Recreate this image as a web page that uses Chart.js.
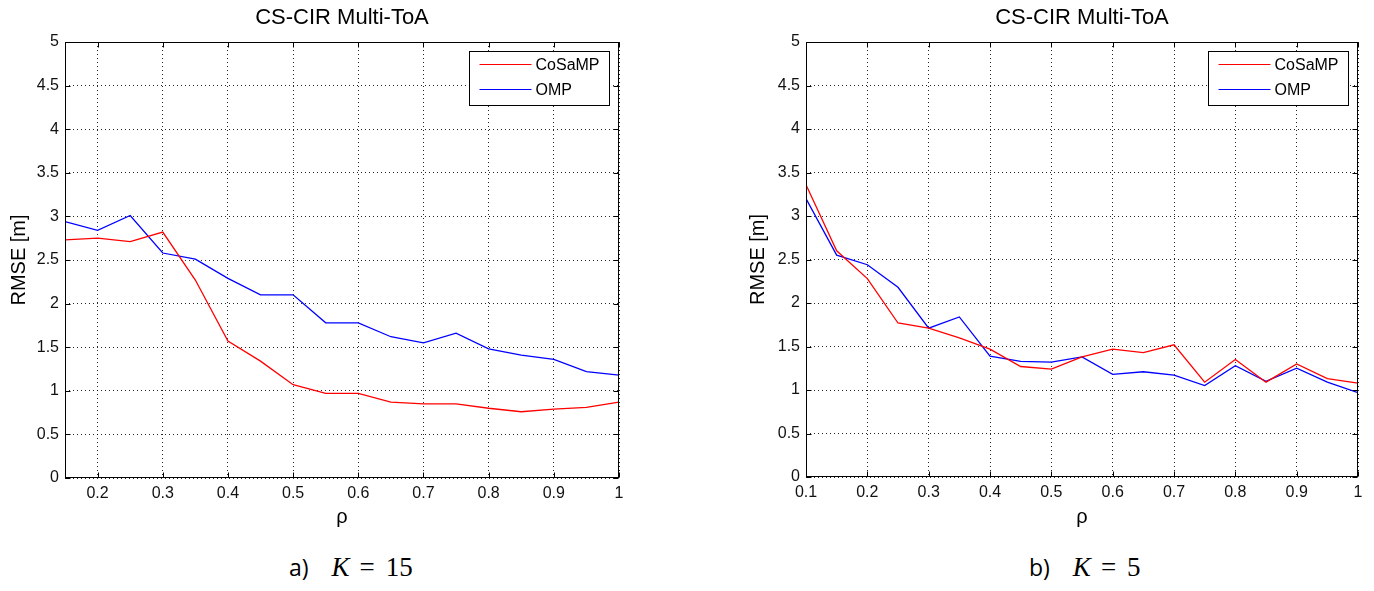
<!DOCTYPE html>
<html>
<head>
<meta charset="utf-8">
<script src="https://cdn.jsdelivr.net/npm/chart.js@4.4.0/dist/chart.umd.min.js"></script>
<style>
  body { margin: 0; background: #fff; width: 1374px; height: 591px; position: relative; overflow: hidden; }
  canvas { position: absolute; top: 0; }
  #chartA { left: 0; }
  #chartB { left: 740px; }
  .cap { position: absolute; top: 550px; font-family: "Open Sans", "Liberation Sans", sans-serif; font-size: 23px; color: #000; white-space: pre; line-height: 34px; }
  .cap .m { font-family: "Liberation Serif", "DejaVu Serif", serif; font-size: 27px; }
  .cap .k { font-style: italic; margin-left: 23px; }
  .cap .eq { margin-left: 10px; }
  .cap .n { margin-left: 11px; }
</style>
</head>
<body>
<canvas id="chartA" width="640" height="540"></canvas>
<canvas id="chartB" width="634" height="540"></canvas>
<div class="cap" style="left:289px">a)<span class="m k">K</span><span class="m eq">=</span><span class="m n">15</span></div>
<div class="cap" style="left:1029px">b)<span class="m k">K</span><span class="m eq">=</span><span class="m n">5</span></div>
<script>
// values
const rhoA = [0.15, 0.2, 0.25, 0.3, 0.35, 0.4, 0.45, 0.5, 0.55, 0.6, 0.65, 0.7, 0.75, 0.8, 0.85, 0.9, 0.95, 1.0];
const cosampA = [2.73, 2.75, 2.71, 2.82, 2.27, 1.57, 1.34, 1.07, 0.97, 0.97, 0.87, 0.85, 0.85, 0.80, 0.76, 0.79, 0.81, 0.87];
const ompA = [2.94, 2.84, 3.01, 2.58, 2.51, 2.29, 2.10, 2.10, 1.78, 1.78, 1.62, 1.55, 1.66, 1.48, 1.41, 1.36, 1.22, 1.18];

const rhoB = [0.1, 0.15, 0.2, 0.25, 0.3, 0.35, 0.4, 0.45, 0.5, 0.55, 0.6, 0.65, 0.7, 0.75, 0.8, 0.85, 0.9, 0.95, 1.0];
const cosampB = [3.36, 2.60, 2.28, 1.77, 1.71, 1.60, 1.47, 1.27, 1.24, 1.38, 1.47, 1.43, 1.52, 1.09, 1.35, 1.09, 1.30, 1.13, 1.08];
const ompB = [3.20, 2.55, 2.44, 2.18, 1.71, 1.84, 1.39, 1.33, 1.32, 1.38, 1.18, 1.21, 1.17, 1.05, 1.28, 1.10, 1.25, 1.09, 0.97];

const xTicksA = [0.2, 0.3, 0.4, 0.5, 0.6, 0.7, 0.8, 0.9, 1];
const xTicksB = [0.1, 0.2, 0.3, 0.4, 0.5, 0.6, 0.7, 0.8, 0.9, 1];
const yTicks = [0, 0.5, 1, 1.5, 2, 2.5, 3, 3.5, 4, 4.5, 5];

const seriesNames = ["CoSaMP", "OMP"];
const seriesColors = ["#ff0000", "#0000ff"];
const titleText = "CS-CIR Multi-ToA";

const fontFamily = "'Liberation Sans', Arial, Helvetica, sans-serif";

function pts(xs, ys) {
    return xs.map((x, i) => ({ x: x, y: ys[i] }));
}

// box round the axes, inward tick marks and the legend
const framePlugin = {
    id: "frame",
    afterDraw(chart) {
        const ctx = chart.ctx;
        const a = chart.chartArea;
        const xs = chart.scales.x;
        const ys = chart.scales.y;
        const L = Math.round(a.left) + 0.5, R = Math.round(a.right) - 0.5;
        const T = Math.round(a.top) + 0.5, B = Math.round(a.bottom) - 0.5;
        ctx.save();
        ctx.strokeStyle = "#000";
        ctx.lineWidth = 1;
        ctx.setLineDash([]);
        ctx.strokeRect(L, T, R - L, B - T);
        ctx.beginPath();
        xs.ticks.forEach(t => {
            const px = Math.round(xs.getPixelForValue(t.value)) + 0.5;
            ctx.moveTo(px, B); ctx.lineTo(px, B - 5);
            ctx.moveTo(px, T); ctx.lineTo(px, T + 5);
        });
        ys.ticks.forEach(t => {
            const py = Math.round(ys.getPixelForValue(t.value)) + 0.5;
            ctx.moveTo(L, py); ctx.lineTo(L + 5, py);
            ctx.moveTo(R, py); ctx.lineTo(R - 5, py);
        });
        ctx.stroke();

        // legend
        const w = 140, h = 54;
        const lx = Math.round(a.right) - 10 - w + 0.5;
        const ly = Math.round(a.top) + 9 + 0.5;
        ctx.fillStyle = "#fff";
        ctx.fillRect(lx, ly, w, h);
        ctx.strokeRect(lx, ly, w, h);
        ctx.font = "16px " + fontFamily;
        ctx.textBaseline = "middle";
        chart.data.datasets.forEach((ds, i) => {
            const yy = ly + 13 + i * 25;
            ctx.strokeStyle = ds.borderColor;
            ctx.beginPath();
            ctx.moveTo(lx + 10, yy); ctx.lineTo(lx + 62, yy);
            ctx.stroke();
            ctx.fillStyle = "#000";
            ctx.fillText(ds.label, lx + 66, yy + 1);
        });
        ctx.restore();
    }
};

function makeChart(id, xs, s1, s2, xTicks, xMin, yWidth, xHeight, padRight, yTitlePad) {
    return new Chart(document.getElementById(id), {
        type: "line",
        data: {
            datasets: [
                { label: seriesNames[0], data: pts(xs, s1), borderColor: seriesColors[0], borderWidth: 1.3, pointRadius: 0, tension: 0, fill: false },
                { label: seriesNames[1], data: pts(xs, s2), borderColor: seriesColors[1], borderWidth: 1.3, pointRadius: 0, tension: 0, fill: false }
            ]
        },
        options: {
            responsive: false,
            animation: false,
            devicePixelRatio: 1,
            layout: { padding: { left: 0, right: padRight, top: 0, bottom: 0 } },
            plugins: {
                legend: { display: false },
                tooltip: { enabled: false },
                title: {
                    display: true,
                    text: titleText,
                    fullSize: false,
                    color: "#000",
                    font: { family: fontFamily, size: 22, weight: "normal", lineHeight: 1.2 },
                    padding: { top: 5, bottom: 10.6 }
                }
            },
            scales: {
                x: {
                    type: "linear",
                    min: xMin,
                    max: 1,
                    afterBuildTicks: s => { s.ticks = xTicks.map(v => ({ value: v })); },
                    afterFit: s => { s.height = xHeight; },
                    grid: { color: "rgba(0,0,0,0.85)", lineWidth: 1, drawTicks: false },
                    border: { display: false, dash: [1, 3] },
                    ticks: {
                        color: "#111",
                        padding: 6,
                        maxRotation: 0,
                        autoSkip: false,
                        font: { family: fontFamily, size: 16 },
                        callback: v => String(v)
                    },
                    title: {
                        display: true,
                        text: "ρ",
                        color: "#000",
                        font: { family: fontFamily, size: 20, lineHeight: 1.2 },
                        padding: { top: 0, bottom: 11 }
                    }
                },
                y: {
                    min: 0,
                    max: 5,
                    afterBuildTicks: s => { s.ticks = yTicks.map(v => ({ value: v })); },
                    afterFit: s => { s.width = yWidth; },
                    grid: { color: "rgba(0,0,0,0.85)", lineWidth: 1, drawTicks: false },
                    border: { display: false, dash: [1, 3] },
                    ticks: {
                        color: "#111",
                        padding: 6,
                        autoSkip: false,
                        font: { family: fontFamily, size: 16 },
                        callback: v => String(v)
                    },
                    title: {
                        display: true,
                        text: "RMSE [m]",
                        color: "#000",
                        font: { family: fontFamily, size: 20, lineHeight: 1.2 },
                        padding: { top: yTitlePad, bottom: 0 }
                    }
                }
            }
        },
        plugins: [framePlugin]
    });
}

makeChart("chartA", rhoA, cosampA, ompA, xTicksA, 0.15, 65, 62, 21, 7);
makeChart("chartB", rhoB, cosampB, ompB, xTicksB, 0.1, 66, 63, 16, 6);
</script>
</body>
</html>
